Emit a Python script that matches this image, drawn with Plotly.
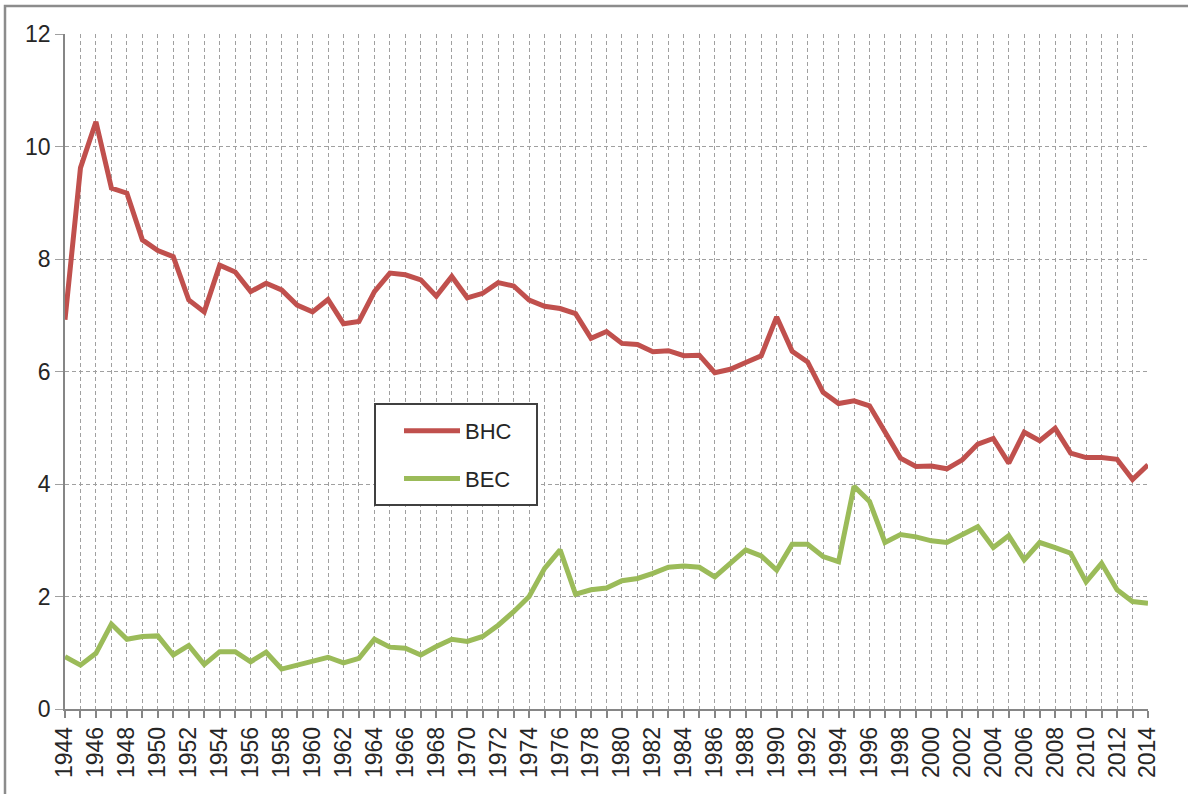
import plotly.graph_objects as go

years = list(range(1944, 2015))

bhc = [6.92, 9.62, 10.44, 9.26, 9.17, 8.34, 8.15, 8.04, 7.27, 7.06,
       7.89, 7.77, 7.42, 7.57, 7.45, 7.18, 7.06, 7.28, 6.85, 6.89,
       7.42, 7.75, 7.72, 7.63, 7.34, 7.69, 7.31, 7.39, 7.58, 7.52,
       7.27, 7.16, 7.12, 7.03, 6.59, 6.71, 6.50, 6.48, 6.35, 6.37,
       6.28, 6.29, 5.98, 6.04, 6.16, 6.28, 6.97, 6.36, 6.17, 5.63,
       5.43, 5.48, 5.39, 4.93, 4.46, 4.31, 4.32, 4.27, 4.43, 4.71,
       4.81, 4.37, 4.92, 4.77, 4.99, 4.55, 4.47, 4.47, 4.44, 4.08,
       4.34]

bec = [0.93, 0.78, 0.99, 1.51, 1.24, 1.29, 1.30, 0.96, 1.13, 0.79,
       1.02, 1.02, 0.84, 1.01, 0.71, 0.78, 0.86, 0.92, 0.82, 0.90,
       1.24, 1.10, 1.08, 0.96, 1.11, 1.24, 1.20, 1.29, 1.49, 1.73,
       2.00, 2.50, 2.83, 2.04, 2.12, 2.15, 2.28, 2.32, 2.41, 2.52,
       2.54, 2.52, 2.35, 2.59, 2.83, 2.72, 2.47, 2.93, 2.93, 2.71,
       2.62, 3.96, 3.69, 2.96, 3.10, 3.06, 2.99, 2.96, 3.09, 3.24,
       2.87, 3.08, 2.65, 2.96, 2.87, 2.77, 2.26, 2.59, 2.12, 1.91,
       1.88]

x_tick_text = [str(y) if y % 2 == 0 else "" for y in years]

FONT = "Liberation Sans"
GRID = "#a0a0a0"
AXIS = "#868686"

fig = go.Figure()
fig.add_trace(go.Scatter(x=years, y=bhc, name="BHC", mode="lines",
                         line=dict(color="#C0504D", width=5),
                         legendgroup="a"))
fig.add_trace(go.Scatter(x=years, y=bec, name="BEC", mode="lines",
                         line=dict(color="#9BBB59", width=5),
                         legendgroup="b"))

W, H = 1188, 794
L, R, T, B = 65, 40, 34, 85
pw, ph = W - L - R, H - T - B

def px_x(p):
    return (p - L) / pw

def px_y(p):
    return (H - B - p) / ph

fig.update_layout(
    width=W, height=H,
    margin=dict(l=L, r=R, t=T, b=B),
    paper_bgcolor="white", plot_bgcolor="white",
    font=dict(family=FONT, size=21, color="#262626"),
    legend=dict(
        x=px_x(399), y=px_y(410), xanchor="left", yanchor="top",
        borderwidth=0, bgcolor="rgba(0,0,0,0)",
        font=dict(family=FONT, size=22, color="#262626"),
        itemwidth=56, tracegroupgap=16, traceorder="grouped",
    ),
    xaxis=dict(
        range=[1944, 2014], tickmode="array", tickvals=years,
        ticktext=x_tick_text, tickangle=-90,
        showgrid=True, gridcolor=GRID, griddash="4px,3px", gridwidth=1,
        showline=True, linecolor=AXIS, linewidth=1.5,
        ticks="outside", ticklen=7, tickcolor=AXIS, tickwidth=1.5,
        zeroline=False, tickfont=dict(size=23),
    ),
    yaxis=dict(
        range=[0, 12], tickmode="linear", tick0=0, dtick=2,
        showgrid=True, gridcolor=GRID, griddash="4px,3px", gridwidth=1,
        showline=True, linecolor=AXIS, linewidth=1.5,
        ticks="outside", ticklen=8, tickcolor=GRID, tickwidth=1,
        zeroline=False, tickfont=dict(size=23),
    ),
    shapes=[
        dict(type="rect", xref="paper", yref="paper",
             x0=px_x(5), x1=px_x(1300), y0=px_y(900), y1=px_y(6),
             line=dict(color="#8c8c8c", width=2.5), layer="above"),
        dict(type="rect", xref="paper", yref="paper",
             x0=px_x(375), x1=px_x(537), y0=px_y(505), y1=px_y(404),
             line=dict(color="#404040", width=2), fillcolor="white",
             layer="above"),
    ],
)

fig.write_html("out.html", config={"displayModeBar": False},
               post_script="document.body.style.margin='0px';")
